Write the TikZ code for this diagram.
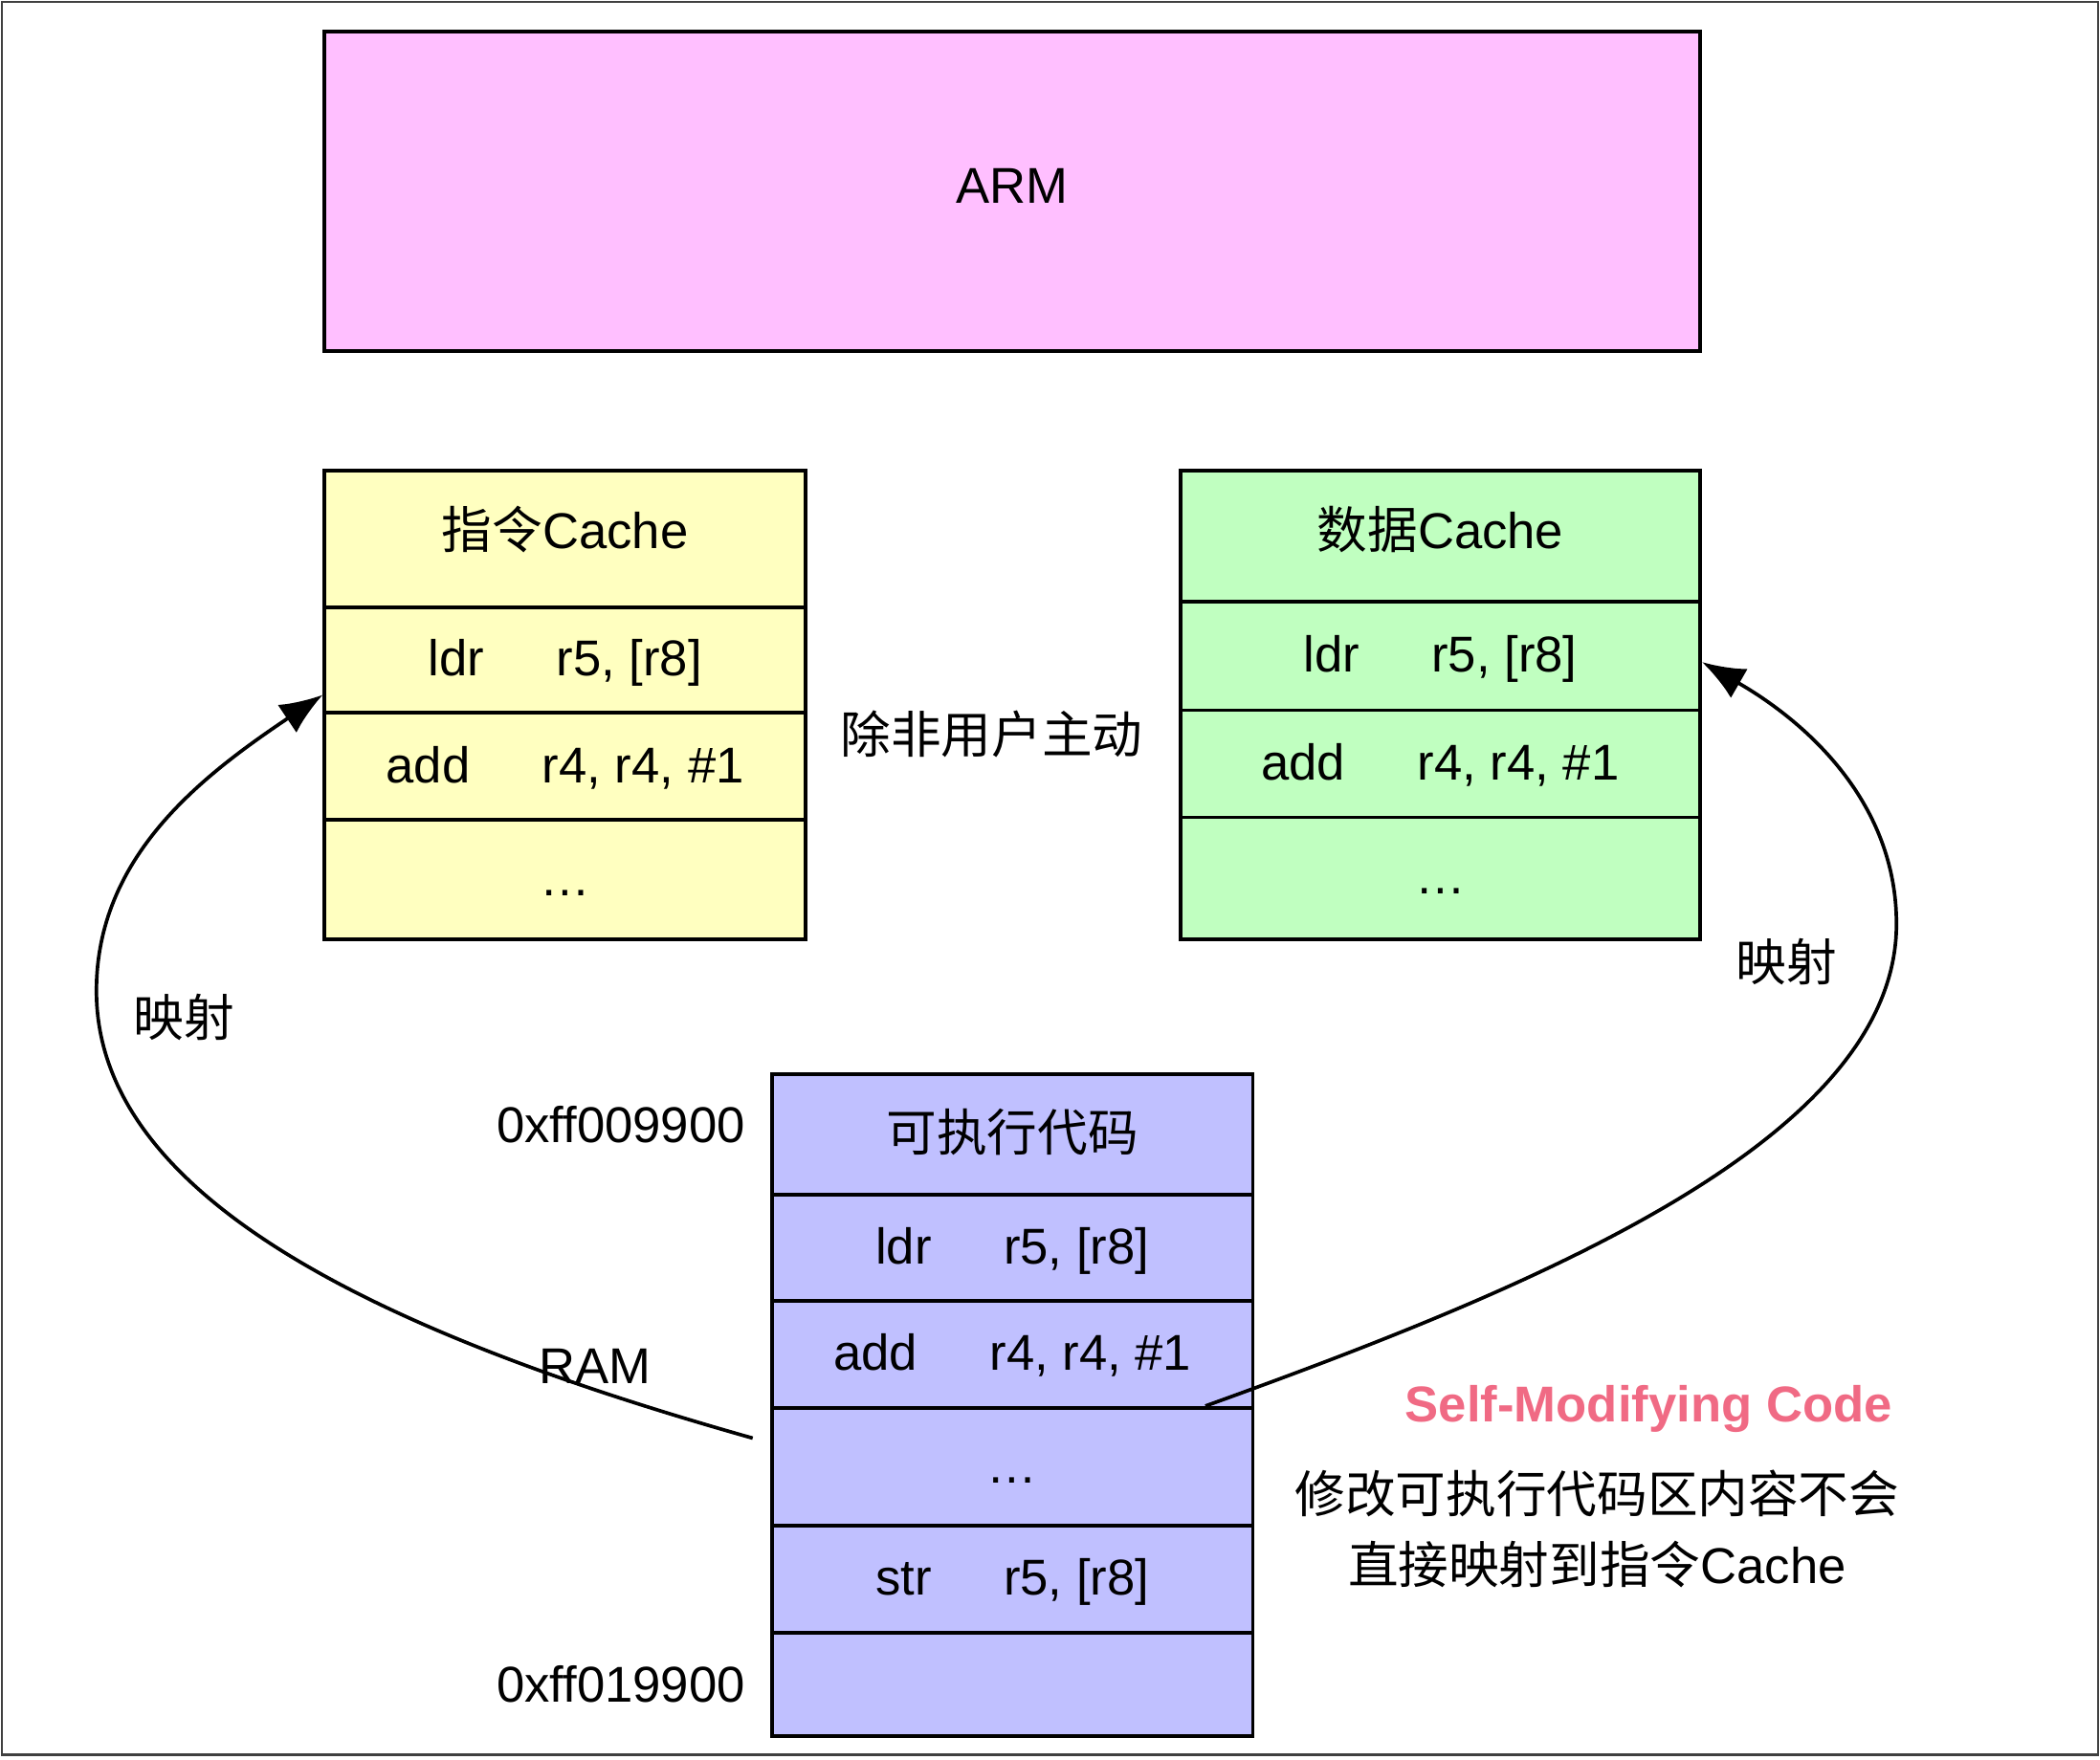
\documentclass[tikz,border=0pt]{standalone}
\usepackage{fontspec}
\setmainfont{Liberation Sans}
\newfontfamily\cjk{Noto Sans CJK SC}
\usetikzlibrary{arrows.meta,positioning}
\definecolor{armpink}{HTML}{FFBFFF}
\definecolor{icyellow}{HTML}{FFFFC0}
\definecolor{dcgreen}{HTML}{C0FFC0}
\definecolor{rampurple}{HTML}{C0C0FF}
\definecolor{smcred}{HTML}{F06A84}
\tikzset{
  cell/.style={draw=black, line width=0.8pt, anchor=north west, inner sep=0pt,
    text height=0.72em, text depth=0.2em, font=\fontsize{10.7}{13}\selectfont},
  oprow/.style={cell, text height=0.88em},
  headrow/.style={cell, text height=0.6em},
  lbl/.style={inner sep=0pt, font=\fontsize{10.7}{15}\selectfont},
  map/.style={line width=0.75pt, -{Latex[length=3.2mm,width=2.5mm]}}
}
\newcommand{\instr}[2]{#1\hspace{0.54cm}#2}

\begin{document}
\begin{tikzpicture}
\useasboundingbox (0,0) rectangle (15.68,-13.143);
\draw[black!75, line width=0.45pt] (0.015,-0.015) rectangle (15.665,-13.105);

\node[cell, fill=armpink, minimum width=10.27cm, minimum height=2.39cm] (arm) at (2.41,-0.22) {ARM};

% instruction cache
\node[headrow, fill=icyellow, minimum width=3.59cm, minimum height=1.02cm] (ic0) at (2.41,-3.50) {{\cjk 指令}Cache};
\node[oprow, fill=icyellow, minimum width=3.59cm, minimum height=0.79cm] (ic1) at (2.41,-4.52) {\instr{ldr}{r5, [r8]}};
\node[oprow, fill=icyellow, minimum width=3.59cm, minimum height=0.80cm] (ic2) at (2.41,-5.31) {\instr{add}{r4, r4, \#1}};
\node[oprow, fill=icyellow, minimum width=3.59cm, minimum height=0.89cm] (ic3) at (2.41,-6.11) {…};

% data cache
\node[cell, fill=dcgreen, minimum width=3.88cm, minimum height=0.98cm] (dc0) at (8.80,-3.50) {{\cjk 数据}Cache};
\node[oprow, fill=dcgreen, minimum width=3.88cm, minimum height=0.81cm] (dc1) at (8.80,-4.48) {\instr{ldr}{r5, [r8]}};
\node[oprow, fill=dcgreen, minimum width=3.88cm, minimum height=0.80cm] (dc2) at (8.80,-5.29) {\instr{add}{r4, r4, \#1}};
\node[oprow, fill=dcgreen, minimum width=3.88cm, minimum height=0.91cm] (dc3) at (8.80,-6.09) {…};

\node[lbl] (unless) at (7.405,-5.48) {\cjk 除非用户主动};

% RAM
\node[oprow, fill=rampurple, minimum width=3.59cm, minimum height=0.90cm] (ram0) at (5.75,-8.01) {\cjk 可执行代码};
\node[oprow, fill=rampurple, minimum width=3.59cm, minimum height=0.79cm] (ram1) at (5.75,-8.91) {\instr{ldr}{r5, [r8]}};
\node[oprow, fill=rampurple, minimum width=3.59cm, minimum height=0.80cm] (ram2) at (5.75,-9.70) {\instr{add}{r4, r4, \#1}};
\node[oprow, fill=rampurple, minimum width=3.59cm, minimum height=0.88cm] (ram3) at (5.75,-10.50) {…};
\node[oprow, fill=rampurple, minimum width=3.59cm, minimum height=0.80cm] (ram4) at (5.75,-11.38) {\instr{str}{r5, [r8]}};
\node[oprow, fill=rampurple, minimum width=3.59cm, minimum height=0.77cm] (ram5) at (5.75,-12.18) {};

\node[lbl, anchor=east] (addrtop) at (5.57,-8.40) {0xff009900};
\node[lbl, left=0.18cm of ram5] (addrbot) {0xff019900};
\node[lbl] (ramname) at (4.44,-10.20) {RAM};

\node[lbl] (mapl) at (1.375,-7.60) {\cjk 映射};
\node[lbl] (mapr) at (13.34,-7.18) {\cjk 映射};

\node[lbl, text=smcred, font=\fontsize{10.7}{15}\selectfont\bfseries] (smc) at (12.31,-10.52) {Self-Modifying Code};
\node[lbl, align=center] (note) at (11.925,-11.42) {{\cjk 修改可执行代码区内容不会}\\{\cjk 直接映射到指令}Cache};

\coordinate (fromL) at (5.62,-10.74);
\coordinate (fromR) at (9.00,-10.50);
\coordinate (toL) at ([yshift=-0.26cm]ic1.west);
\coordinate (toR) at ([yshift=-0.045cm]dc1.east);
\draw[map] (fromL) .. controls (3.00,-10.00) and (0.72,-9.00) .. (0.72,-7.40)
  .. controls (0.72,-6.40) and (1.50,-5.80) .. (toL);
\draw[map] (fromR) .. controls (11.50,-9.60) and (14.16,-8.50) .. (14.16,-6.90)
  .. controls (14.16,-6.00) and (13.50,-5.40) .. (toR);
\end{tikzpicture}
\end{document}
